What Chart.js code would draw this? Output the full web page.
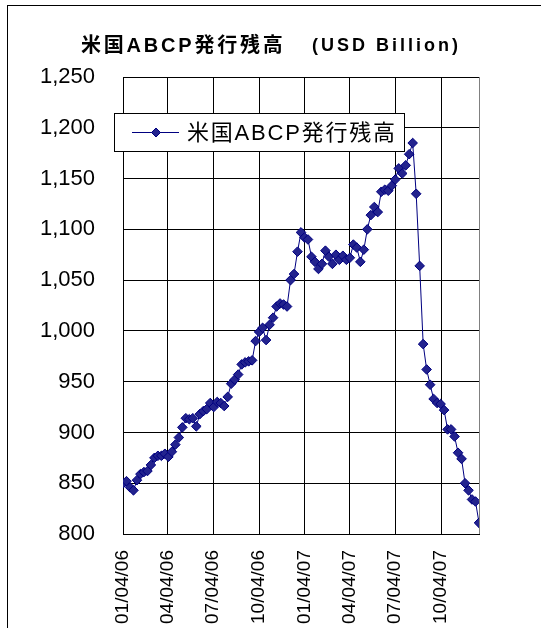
<!DOCTYPE html>
<html>
<head>
<meta charset="utf-8">
<script src="https://cdn.jsdelivr.net/npm/chart.js@4.4.1/dist/chart.umd.min.js"></script>
<style>
  html, body { margin: 0; padding: 0; background: #fff; }
  #wrap { position: relative; width: 541px; height: 628px; }
  canvas { display: block; }
</style>
</head>
<body>
<div id="wrap"><canvas id="c" width="541" height="628"></canvas></div>
<script>
// Weekly US asset-backed commercial paper outstanding (USD billion)
const firstWeek = '2006-01-04';
const abcpOutstanding = [
  850, 852, 846, 843, 853, 859, 861, 862, 868, 875,
  877, 877, 879, 876, 881, 888, 895, 905, 914, 913,
  914, 906, 918, 921, 923, 929, 925, 930, 929, 926,
  935, 948, 952, 957, 967, 969, 970, 971, 990, 999,
  1003, 991, 1006, 1013, 1024, 1027, 1026, 1024, 1050, 1056,
  1078, 1097, 1092, 1090, 1073, 1068, 1061, 1066, 1079, 1073,
  1066, 1075, 1070, 1074, 1070, 1072, 1085, 1082, 1068, 1080,
  1100, 1114, 1122, 1117, 1137, 1139, 1138, 1143, 1149, 1160,
  1155, 1163, 1174, 1185, 1135, 1064, 987, 962, 947, 933,
  929, 928, 922, 903, 903, 896, 880, 874, 850, 843,
  834, 832, 811
];
const quarterTickLabels = ['01/04/06', '04/04/06', '07/04/06', '10/04/06',
                           '01/04/07', '04/04/07', '07/04/07', '10/04/07'];
const seriesLabel = '米国ABCP発行残高';
const titleMain = '米国ABCP発行残高';
const titleUnit = '(USD Billion)';
const yMin = 800, yMax = 1250, yStep = 50;

const DAY = 86400000;
const start = Date.parse(firstWeek + 'T00:00:00Z');
// days since the first week for an MM/DD/YY label
function labelToDay(s) {
  const [mm, dd, yy] = s.split('/').map(Number);
  return Math.round((Date.UTC(2000 + yy, mm - 1, dd) - start) / DAY);
}
const tickDays = quarterTickLabels.map(labelToDay);
const points = abcpOutstanding.map((v, i) => ({ x: i * 7, y: v }));
const lastDay = (abcpOutstanding.length - 1) * 7;

const NAVY = '#000080';
const MARK = '#23238e';
const LATIN_CJK = '"Liberation Sans", Arial, "Noto Sans CJK JP", sans-serif';

const frameAndTitle = {
  id: 'frameAndTitle',
  beforeDraw(chart) {
    const ctx = chart.ctx;
    ctx.save();
    ctx.fillStyle = '#fff';
    ctx.fillRect(0, 0, chart.width, chart.height);
    ctx.strokeStyle = '#000';
    ctx.lineWidth = 1;
    ctx.strokeRect(7.5, 5.5, 700, 800);
    ctx.restore();
  },
  afterDraw(chart) {
    const ctx = chart.ctx;
    ctx.save();
    ctx.fillStyle = '#000';
    ctx.textAlign = 'left';
    ctx.textBaseline = 'middle';
    ctx.font = 'bold 20px ' + LATIN_CJK;
    ctx.letterSpacing = '2.8px';
    ctx.fillText(titleMain, 81, 46);
    ctx.font = 'bold 18px ' + LATIN_CJK;
    ctx.letterSpacing = '3px';
    ctx.fillText(titleUnit, 312, 46);
    ctx.restore();
  }
};

const plotBorder = {
  id: 'plotBorder',
  beforeDatasetsDraw(chart) {
    const { ctx, chartArea: a } = chart;
    ctx.save();
    ctx.strokeStyle = '#808080';
    ctx.lineWidth = 1;
    ctx.beginPath();
    ctx.moveTo(Math.round(a.right) + 0.5, a.top);
    ctx.lineTo(Math.round(a.right) + 0.5, a.bottom);
    ctx.stroke();
    ctx.restore();
  }
};

const boxedLegend = {
  id: 'boxedLegend',
  afterDatasetsDraw(chart) {
    const ctx = chart.ctx;
    const ds = chart.data.datasets[0];
    const bx = 114.5, by = 113.5, bw = 290, bh = 38;
    ctx.save();
    ctx.fillStyle = '#fff';
    ctx.fillRect(bx, by, bw, bh);
    ctx.strokeStyle = '#000';
    ctx.lineWidth = 1;
    ctx.strokeRect(bx, by, bw, bh);
    const cy = by + bh / 2;
    ctx.strokeStyle = ds.borderColor;
    ctx.lineWidth = 1;
    ctx.beginPath();
    ctx.moveTo(132, cy);
    ctx.lineTo(179, cy);
    ctx.stroke();
    ctx.fillStyle = ds.pointBackgroundColor;
    ctx.strokeStyle = ds.pointBorderColor;
    ctx.beginPath();
    const r = 4.5;
    ctx.moveTo(156, cy - r); ctx.lineTo(156 + r, cy);
    ctx.lineTo(156, cy + r); ctx.lineTo(156 - r, cy);
    ctx.closePath();
    ctx.fill(); ctx.stroke();
    ctx.fillStyle = '#000';
    ctx.font = '22px ' + LATIN_CJK;
    ctx.letterSpacing = '1.8px';
    ctx.textAlign = 'left';
    ctx.textBaseline = 'middle';
    ctx.fillText(ds.label, 187, cy + 1);
    ctx.restore();
  }
};

new Chart(document.getElementById('c'), {
  type: 'line',
  data: {
    datasets: [{
      label: seriesLabel,
      data: points,
      borderColor: NAVY,
      borderWidth: 1,
      pointStyle: 'rectRot',
      pointRadius: 4.8,
      pointBorderWidth: 1,
      pointBackgroundColor: MARK,
      pointBorderColor: NAVY,
      tension: 0,
      fill: false
    }]
  },
  options: {
    responsive: false,
    devicePixelRatio: 1,
    animation: false,
    events: [],
    layout: { padding: { top: 77, right: 62, left: 0, bottom: 0 } },
    plugins: {
      legend: { display: false },
      title: { display: false },
      tooltip: { enabled: false }
    },
    scales: {
      x: {
        type: 'linear',
        min: 0,
        max: lastDay,
        afterBuildTicks(scale) {
          scale.ticks = tickDays.map(v => ({ value: v }));
        },
        afterFit(scale) { scale.height = 94; },
        grid: { color: '#000', lineWidth: 1, drawTicks: false },
        border: { color: '#000', width: 1 },
        ticks: {
          autoSkip: false,
          minRotation: 90,
          maxRotation: 90,
          padding: 16,
          color: '#000',
          font: { family: LATIN_CJK, size: 19 },
          callback(value) {
            const k = tickDays.indexOf(value);
            return k >= 0 ? quarterTickLabels[k] : '';
          }
        }
      },
      y: {
        min: yMin,
        max: yMax,
        afterFit(scale) { scale.width = 123; },
        grid: { color: '#000', lineWidth: 1, drawTicks: false },
        border: { color: '#000', width: 1 },
        ticks: {
          stepSize: yStep,
          padding: 28,
          color: '#000',
          font: { family: LATIN_CJK, size: 22 },
          callback(value) { return value.toLocaleString('en-US'); }
        }
      }
    }
  },
  plugins: [frameAndTitle, plotBorder, boxedLegend]
});
</script>
</body>
</html>
